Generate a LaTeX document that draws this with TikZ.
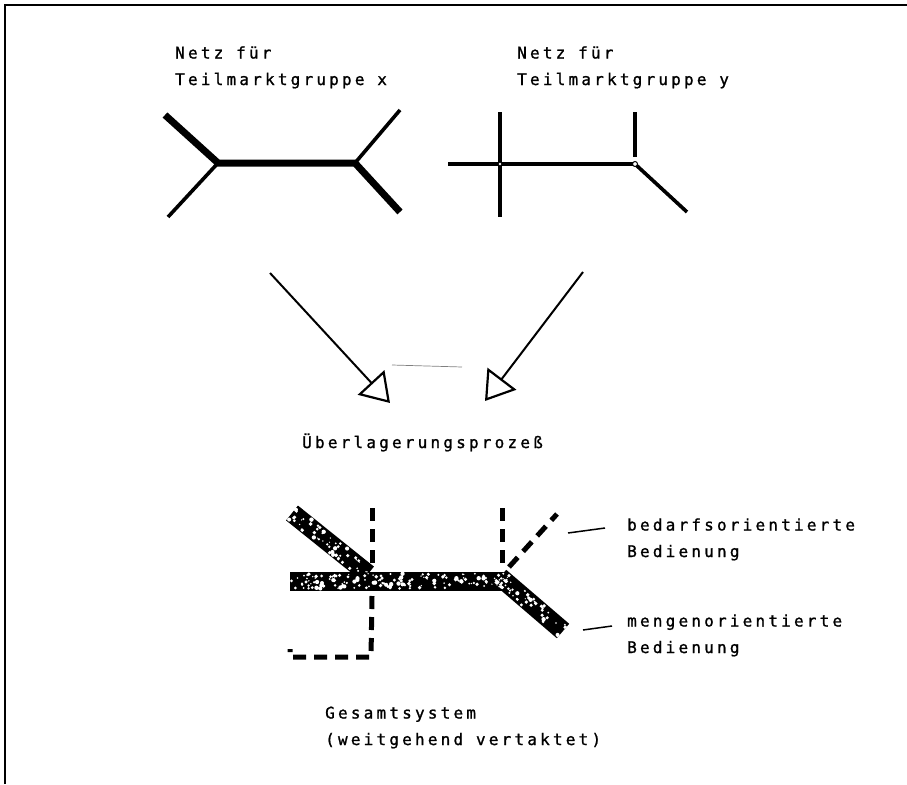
\documentclass[tikz,border=0pt]{standalone}
\usepackage{fontspec}
\newfontfamily\plotfont[LetterSpace=20, FakeBold=1.2]{DejaVu Sans Mono}
\usetikzlibrary{arrows.meta,calc}

\begin{document}
\begin{tikzpicture}[x=1pt,y=-1pt,
    lbl/.style={font=\plotfont\fontsize{16}{26.5}\selectfont, align=left, anchor=base west, inner sep=0pt},
    trunk/.style={line width=7, line cap=butt},
    feeder/.style={line width=3.6, line cap=butt},
    flow/.style={line width=2, -{Triangle[open, length=28pt, width=36pt, line width=2.2pt]}},
    bar/.style={line width=19, line cap=butt},
    dashes/.style={line width=5, dash pattern=on 13pt off 8pt, line cap=butt},
    leader/.style={line width=1.5}]
    \useasboundingbox (0,0) rectangle (907,784);
    \path[draw, line width=2] (5,784) -- (5,5) -- (907,5);

    \node[lbl] (netzx) at (175,85) {Netz für\\Teilmarktgruppe x};
    \node[lbl] (netzy) at (517,85) {Netz für\\Teilmarktgruppe y};
    \node[lbl] (ueber) at (302,448) {Überlagerungsprozeß};
    \node[lbl] (bedarf) at (627,557) {bedarfsorientierte\\Bedienung};
    \node[lbl] (mengen) at (627,653) {mengenorientierte\\Bedienung};
    \node[lbl] (gesamt) at (325,745) {Gesamtsystem\\(weitgehend vertaktet)};

    \coordinate (x-l) at (218,163);
    \coordinate (x-r) at (355,163);
    \coordinate (x-lu) at (165,115);
    \coordinate (x-ld) at (168,217);
    \coordinate (x-ru) at (400,110);
    \coordinate (x-rd) at (400,212);
    \path[draw, trunk] (x-lu) -- (x-l) -- (x-r) -- (x-rd);
    \path[draw, feeder] (x-ld) -- (x-l);
    \path[draw, feeder] (x-r) -- (x-ru);

    \coordinate (y-w) at (448,164);
    \coordinate (y-l) at (500,164);
    \coordinate (y-r) at (635,164);
    \coordinate (y-lu) at (500,112);
    \coordinate (y-ld) at (500,217);
    \coordinate (y-ru) at (635,112);
    \coordinate (y-rt) at (635,157);
    \coordinate (y-rd) at (687,212);
    \path[draw, feeder] (y-w) -- (y-r) -- (y-rd);
    \path[draw, feeder] (y-lu) -- (y-ld);
    \path[draw, feeder] (y-ru) -- (y-rt);
    \path[draw, fill=white, line width=1] (y-r) circle (2.5pt);
    \path[fill=white] (y-l) circle (1.3pt);

    \coordinate (ax-s) at (270,273);
    \coordinate (ax-e) at (390,403);
    \coordinate (ay-s) at (583,272);
    \coordinate (ay-e) at (485,401);
    \path[draw, flow] (ax-s) -- (ax-e);
    \path[draw, flow] (ay-s) -- (ay-e);
    \coordinate (fa) at (392,365);
    \coordinate (fb) at (462,367);
    \path[draw, gray, line width=0.7] (fa) -- (fb);

    \coordinate (g-w) at (290,581);
    \coordinate (g-r) at (507,581);
    \coordinate (g-lu) at (292,513);
    \coordinate (g-lj) at (368,574);
    \coordinate (g-rj) at (500,577);
    \coordinate (g-rd) at (563,631);
    \path[draw, bar] (g-lu) -- (g-lj);
    \path[draw, bar] (g-w) -- (g-r);
    \path[draw, bar] (g-rj) -- (g-rd);
    \pgfmathsetseed{42}
    \foreach \a/\b/\n in {g-w/g-r/150, g-lu/g-lj/55, g-rj/g-rd/45}{
      \foreach \i in {1,...,\n}{
        \pgfmathsetmacro\t{rnd}
        \pgfmathsetmacro\o{(rnd-0.5)*15}
        \pgfmathsetmacro\r{0.6+1.6*rnd}
        \fill[white] ($(\a)!\t!(\b)!\o pt!90:(\b)$) circle (\r pt);
      }
    }

    \coordinate (v1-t) at (372,508);
    \coordinate (v1-j) at (372,567);
    \coordinate (v1-b) at (372,596);
    \coordinate (v1-c) at (371,657);
    \coordinate (v1-e) at (290,657);
    \coordinate (v1-h) at (290,649);
    \coordinate (v2-t) at (502,508);
    \coordinate (v2-j) at (502,566);
    \coordinate (d-j) at (509,567);
    \coordinate (d-e) at (557,514);
    \path[draw, dashes] (v1-t) -- (v1-j);
    \path[draw, dashes] (v1-b) -- (v1-c) -- (v1-e) -- (v1-h);
    \path[draw, dashes] (v2-t) -- (v2-j);
    \path[draw, dashes] (d-j) -- (d-e);

    \coordinate (lb-a) at (568,533);
    \coordinate (lb-b) at (605,528);
    \coordinate (lm-a) at (583,630);
    \coordinate (lm-b) at (612,626);
    \path[draw, leader] (lb-a) -- (lb-b);
    \path[draw, leader] (lm-a) -- (lm-b);
  \end{tikzpicture}
\end{document}
